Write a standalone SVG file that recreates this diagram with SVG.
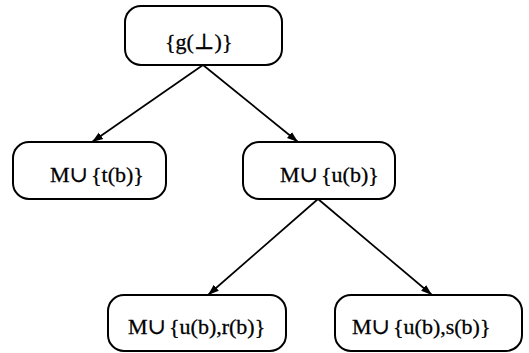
<svg xmlns="http://www.w3.org/2000/svg" width="529" height="353" viewBox="0 0 529 353">
<style>
.box{fill:#fff;stroke:#000;stroke-width:2}
.lbl{font-family:"Liberation Serif","DejaVu Serif",serif;font-size:22px;fill:#000;stroke:#000;stroke-width:0.3}
.edge{stroke:#000;stroke-width:1.7;fill:none;marker-end:url(#ah)}
</style>
<defs>
<marker id="ah" viewBox="0 0 10 10" refX="10" refY="5" markerWidth="11" markerHeight="11" markerUnits="userSpaceOnUse" orient="auto">
<path d="M0,1.5 L10,5 L0,8.5 Z" fill="#000"/>
</marker>
</defs>
<rect width="529" height="353" fill="#fff"/>
<g id="connectors">
<line class="edge" x1="203" y1="65" x2="92" y2="142"/>
<line class="edge" x1="203" y1="65" x2="298" y2="142"/>
<line class="edge" x1="318" y1="199" x2="208" y2="295"/>
<line class="edge" x1="318" y1="199" x2="432" y2="295"/>
</g>
<g id="root">
<rect class="box" x="125" y="6" width="157" height="59" rx="16"/>
<text class="lbl" x="165" y="49">{g(⊥)}</text>
</g>
<g id="t">
<rect class="box" x="13" y="142" width="153" height="57" rx="16"/>
<text class="lbl" x="50" y="182">M∪<tspan dx="3">{t(b)}</tspan></text>
</g>
<g id="u">
<rect class="box" x="243" y="142" width="152" height="57" rx="16"/>
<text class="lbl" x="280" y="182">M∪<tspan dx="3">{u(b)}</tspan></text>
</g>
<g id="ur">
<rect class="box" x="108" y="295" width="178" height="56" rx="16"/>
<text class="lbl" x="128" y="334">M∪<tspan dx="3">{u(b),r(b)}</tspan></text>
</g>
<g id="us">
<rect class="box" x="335" y="295" width="187" height="56" rx="16"/>
<text class="lbl" x="352" y="334">M∪<tspan dx="3">{u(b),s(b)}</tspan></text>
</g>
</svg>
